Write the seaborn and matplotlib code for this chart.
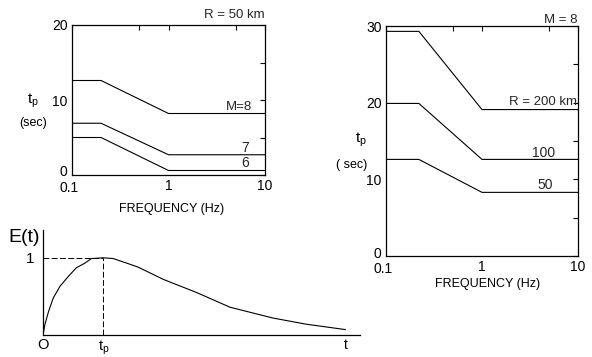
import matplotlib
matplotlib.use("Agg")
import matplotlib.pyplot as plt
from matplotlib.ticker import NullLocator
from matplotlib.transforms import ScaledTranslation
import seaborn as sns
import numpy as np

# ---------------- data ----------------
# top-left panel: R = 50 km, tp (sec) vs frequency (Hz)
freq_left = [0.1, 0.2, 1.0, 10.0]
tp_m8 = [12.6, 12.6, 8.2, 8.2]
tp_m7 = [6.9, 6.9, 2.7, 2.7]
tp_m6 = [5.0, 5.0, 0.6, 0.6]
left_labels = ["M=8", "7", "6"]

# right panel: M = 8
freq_right = [0.1, 0.22, 1.0, 10.0]
tp_r200 = [29.3, 29.3, 19.1, 19.1]
tp_r100 = [19.9, 19.9, 12.6, 12.6]
tp_r50 = [12.6, 12.6, 8.3, 8.3]
right_labels = ["R = 200 km", "100", "50"]

# bottom panel: envelope E(t), t in units of tp
t_norm = [0.0, 0.03, 0.09, 0.17, 0.28, 0.42, 0.55, 0.69, 0.80, 1.0, 1.16,
          1.35, 1.57, 1.99, 2.54, 3.09, 3.8, 4.35, 5.0]
E_vals = [0.0, 0.13, 0.30, 0.48, 0.63, 0.76, 0.87, 0.93, 0.99, 1.0, 0.99,
          0.94, 0.88, 0.72, 0.55, 0.36, 0.22, 0.14, 0.07]

freq_ticks = [0.1, 0.5, 1, 5, 10]
freq_ticklabels = ["0.1", "", "1", "", "10"]

# ---------------- style ----------------
sns.set_style("white")
plt.rcParams["font.family"] = ["Liberation Sans", "DejaVu Sans"]
plt.rcParams["mathtext.fontset"] = "custom"
plt.rcParams["mathtext.rm"] = "Liberation Sans"
plt.rcParams["mathtext.it"] = "Liberation Sans"

W, H = 592, 357
fig = plt.figure(figsize=(W / 100, H / 100), dpi=100)
fig.patch.set_facecolor("white")

def box(l, t, r, b):
    return [l / W, 1 - b / H, (r - l) / W, (b - t) / H]

def ftext(x, y, s, **kw):
    fig.text(x / W, 1 - y / H, s, ha="center", va="center", color="black", **kw)

LW = 0.8

def shift(label, dx_px, dy_px):
    label.set_transform(label.get_transform() +
                        ScaledTranslation(dx_px / 100, dy_px / 100, fig.dpi_scale_trans))

def style_freq_axis(ax, ymax, ystep_major):
    ax.set_xscale("log")
    ax.set_xlim(0.1, 10)
    ax.set_ylim(0, ymax)
    ax.set_xticks(freq_ticks)
    ax.set_xticklabels(freq_ticklabels)
    ax.xaxis.set_minor_locator(NullLocator())
    yt = np.arange(0, ymax + 0.1, ystep_major / 2)
    ax.set_yticks(yt)
    ax.set_yticklabels([f"{v:g}" if v % ystep_major == 0 else "" for v in yt])
    ax.tick_params(direction="in", top=True, right=True, length=3.5, width=0.8,
                   labelsize=10, pad=3, colors="black")
    for s in ax.spines.values():
        s.set_visible(True)
        s.set_linewidth(0.9)
        s.set_color("black")
    ax.set_xlabel("")
    ax.set_ylabel("")
    # keep the corner labels "0" and "0.1" apart
    shift(ax.get_yticklabels()[0], -1, 4)
    shift(ax.get_xticklabels()[0], -3, -2)

# ---------------- top-left panel ----------------
ax1 = fig.add_axes(box(72, 25, 265, 175))
for ys in (tp_m8, tp_m7, tp_m6):
    sns.lineplot(x=freq_left, y=ys, ax=ax1, color="black", lw=LW, estimator=None)
style_freq_axis(ax1, 20, 10)
ax1.text(5.4, 9.1, left_labels[0], ha="center", va="center", fontsize=9.5)
ax1.text(6.2, 3.6, left_labels[1], ha="center", va="center", fontsize=10)
ax1.text(6.2, 1.6, left_labels[2], ha="center", va="center", fontsize=10)
ax1.text(1.0, 1.067, "R = 50 km", transform=ax1.transAxes, ha="right", va="center", fontsize=9.5)
ftext(33, 101, r"t$_\mathregular{p}$", fontsize=11)
ftext(33, 123, "(sec)", fontsize=9)
ftext(172, 209, "FREQUENCY (Hz)", fontsize=9)

# ---------------- right panel ----------------
ax2 = fig.add_axes(box(386, 26, 578, 256))
for ys in (tp_r200, tp_r100, tp_r50):
    sns.lineplot(x=freq_right, y=ys, ax=ax2, color="black", lw=LW, estimator=None)
style_freq_axis(ax2, 30, 10)
ax2.text(4.3, 20.1, right_labels[0], ha="center", va="center", fontsize=9.5)
ax2.text(4.4, 13.4, right_labels[1], ha="center", va="center", fontsize=10)
ax2.text(4.6, 9.3, right_labels[2], ha="center", va="center", fontsize=10)
ax2.text(1.0, 1.025, "M = 8", transform=ax2.transAxes, ha="right", va="center", fontsize=9.5)
ftext(361, 140, r"t$_\mathregular{p}$", fontsize=11)
ftext(352, 165, "( sec)", fontsize=9)
ftext(488, 284, "FREQUENCY (Hz)", fontsize=9)

# ---------------- bottom panel ----------------
ax3 = fig.add_axes(box(43, 230, 360, 335))
sns.lineplot(x=t_norm, y=E_vals, ax=ax3, color="black", lw=LW, estimator=None)
ipk = int(np.argmax(E_vals))
t_peak, e_peak = t_norm[ipk], E_vals[ipk]
dash = (0, (6, 2.5))
ax3.plot([0, t_peak], [e_peak, e_peak], color="black", lw=0.7, ls=dash)
ax3.plot([t_peak, t_peak], [0, e_peak], color="black", lw=0.7, ls=dash)
ax3.set_xlim(0, 5.24)
ax3.set_ylim(0, 1.36)
for side in ("top", "right"):
    ax3.spines[side].set_visible(False)
for side in ("left", "bottom"):
    ax3.spines[side].set_linewidth(0.9)
    ax3.spines[side].set_color("black")
ax3.set_xticks([0, 1, 2, 3, 4, 5])
ax3.set_xticklabels(["O", r"t$_\mathregular{p}$", "", "", "", "t"])
ax3.tick_params(axis="x", direction="in", length=5, width=0.8, pad=2.5, labelsize=10.5, colors="black")
for i in (0, 1):
    ax3.xaxis.get_major_ticks()[i].tick1line.set_visible(False)
ax3.get_xticklabels()[5].set_fontsize(10)
ax3.set_yticks([1])
ax3.set_yticklabels(["1"])
ax3.tick_params(axis="y", length=0, pad=6, labelsize=11, colors="black")
ax3.set_xlabel("")
ax3.set_ylabel("")
ftext(24, 238, "E(t)", fontsize=14)

fig.savefig("out.png", dpi=100, facecolor="white")
